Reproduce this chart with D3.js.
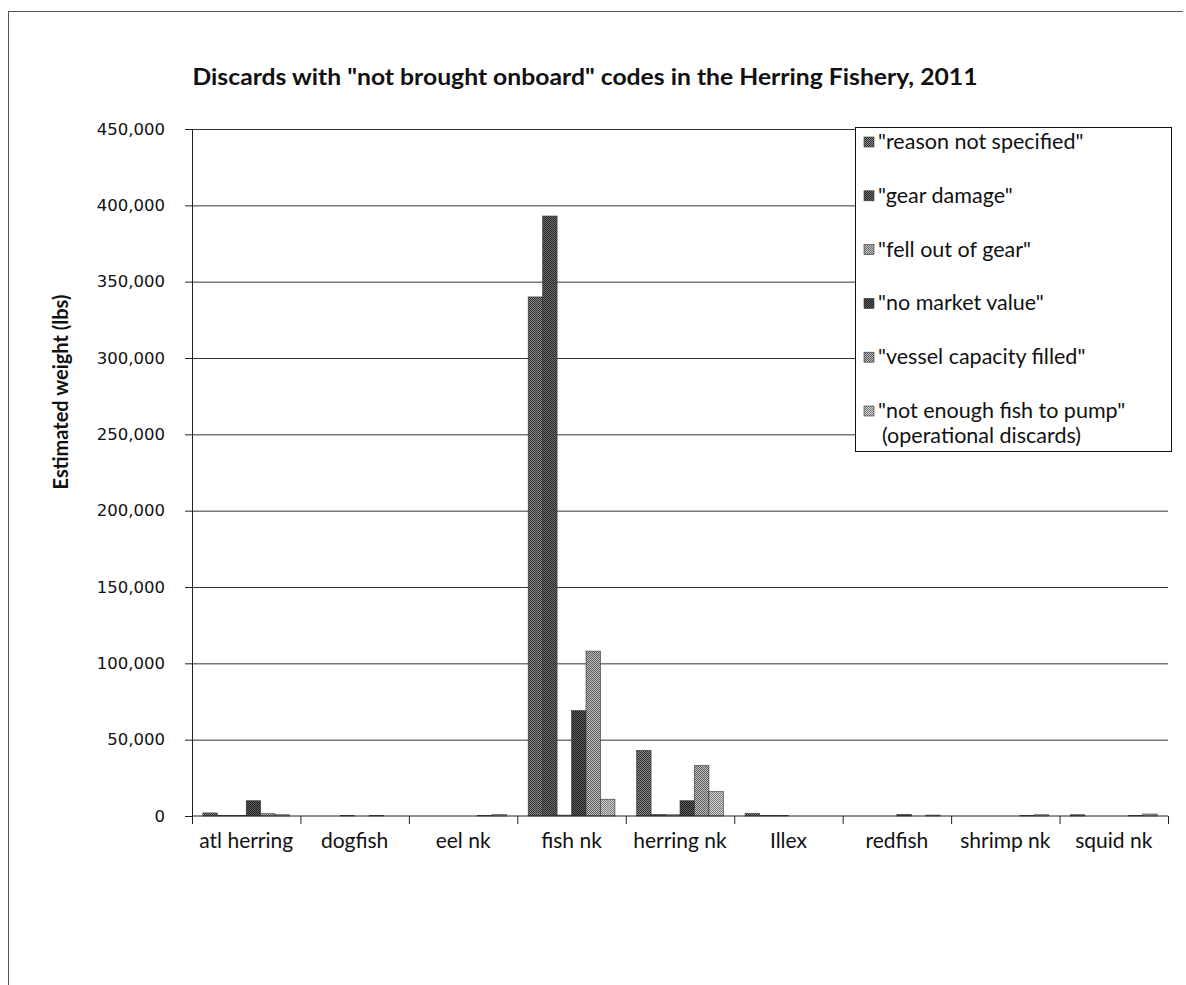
<!DOCTYPE html>
<html>
<head>
<meta charset="utf-8">
<script src="https://cdn.jsdelivr.net/npm/d3@7/dist/d3.min.js"></script>
<style>
  html, body { margin: 0; padding: 0; background: #fff; }
  svg { display: block; }
</style>
</head>
<body>
<svg id="chart" width="1186" height="985"></svg>
<script>
// Discard categories (species codes) along the x axis
const categories = ["atl herring", "dogfish", "eel nk", "fish nk", "herring nk", "Illex", "redfish", "shrimp nk", "squid nk"];

// Estimated weight (lbs) per "not brought onboard" reason, one value per category
const reasonNotSpecified   = [2000,   0,   0, 340000, 43000, 1800,    0,   0,  800];
const gearDamage           = [ 400,   0,   0, 393000,  1000,  300,    0,   0,    0];
const fellOutOfGear        = [ 400, 200,   0,    600,   800,  300,    0,   0,    0];
const noMarketValue        = [10000,  0,   0,  69000, 10000,    0, 1000,   0,    0];
const vesselCapacityFilled = [1500, 300, 300, 108000, 33000,    0,    0, 300,  300];
const notEnoughFishToPump  = [ 800,   0, 900,  11000, 16000,    0,  600, 800, 1300];

// Legend labels, in series order
const seriesLabels = [
  ["\"reason not specified\""],
  ["\"gear damage\""],
  ["\"fell out of gear\""],
  ["\"no market value\""],
  ["\"vessel capacity filled\""],
  ["\"not enough fish to pump\"", "(operational discards)"]
];

const yTicks = [0, 50000, 100000, 150000, 200000, 250000, 300000, 350000, 400000, 450000];

const seriesValues = [reasonNotSpecified, gearDamage, fellOutOfGear, noMarketValue, vesselCapacityFilled, notEnoughFishToPump];

// Two-tone stipple fills, giving the halftone grey look of each series
const tones = [
  ["#2e2e2e", "#8c8c8c"],
  ["#262626", "#6e6e6e"],
  ["#6a6a6a", "#c4c4c4"],
  ["#1e1e1e", "#5e5e5e"],
  ["#5a5a5a", "#c0c0c0"],
  ["#7a7a7a", "#d2d2d2"]
];

const svg = d3.select("#chart");
const defs = svg.append("defs");
tones.forEach((t, i) => {
  const p = defs.append("pattern")
    .attr("id", "fill" + i)
    .attr("patternUnits", "userSpaceOnUse")
    .attr("width", 2).attr("height", 2);
  p.append("rect").attr("width", 2).attr("height", 2).attr("fill", t[1]);
  p.append("rect").attr("width", 1).attr("height", 1).attr("fill", t[0]);
  p.append("rect").attr("x", 1).attr("y", 1).attr("width", 1).attr("height", 1).attr("fill", t[0]);
});

// Chart frame edges
svg.append("line").attr("x1", 8.5).attr("x2", 8.5).attr("y1", 11).attr("y2", 985)
  .attr("stroke", "#555").attr("stroke-width", 1);
svg.append("line").attr("x1", 8).attr("x2", 1183).attr("y1", 11.5).attr("y2", 11.5)
  .attr("stroke", "#555").attr("stroke-width", 1);

const plot = { left: 192, right: 1168, top: 129, bottom: 816 };

const x = d3.scaleBand().domain(categories).range([plot.left, plot.right]).paddingInner(0).paddingOuter(0);
const xs = d3.scaleBand().domain(d3.range(seriesValues.length)).range([0, x.bandwidth()])
  .paddingInner(0).paddingOuter(0.75);
const y = d3.scaleLinear().domain([0, 450000]).range([plot.bottom, plot.top]);

// Title
svg.append("text")
  .attr("x", 585).attr("y", 85)
  .attr("text-anchor", "middle")
  .attr("font-family", "Lato, 'Open Sans', sans-serif")
  .attr("font-weight", "bold")
  .attr("font-size", 23)
  .attr("textLength", 785)
  .attr("lengthAdjust", "spacingAndGlyphs")
  .attr("fill", "#111")
  .text("Discards with \"not brought onboard\" codes in the Herring Fishery, 2011");

// Horizontal gridlines
svg.append("g")
  .attr("class", "grid")
  .attr("transform", `translate(${plot.left},0)`)
  .call(d3.axisLeft(y).tickValues(yTicks.slice(1)).tickSize(-(plot.right - plot.left)).tickFormat(""))
  .call(g => g.select(".domain").remove())
  .call(g => g.selectAll("line").attr("stroke", "#333").attr("stroke-width", 1));

// Y axis with tick labels
const fmt = d3.format(",");
svg.append("g")
  .attr("transform", `translate(${plot.left},0)`)
  .call(d3.axisLeft(y).tickValues(yTicks).tickSize(7).tickPadding(20).tickFormat(d => fmt(d)))
  .call(g => g.select(".domain").attr("stroke", "#222"))
  .call(g => g.selectAll(".tick line").attr("stroke", "#222"))
  .call(g => g.selectAll(".tick text")
    .attr("font-family", "'DejaVu Sans', Verdana, sans-serif")
    .attr("font-size", 16.5)
    .attr("fill", "#111"));

// Y axis title
svg.append("text")
  .attr("transform", "translate(68,392) rotate(-90)")
  .attr("text-anchor", "middle")
  .attr("font-family", "Lato, 'Open Sans', sans-serif")
  .attr("font-weight", "bold")
  .attr("font-size", 20)
  .attr("fill", "#111")
  .text("Estimated weight (lbs)");

// Bars
const bars = [];
seriesValues.forEach((vals, si) => {
  vals.forEach((v, ci) => bars.push({ si, cat: categories[ci], v }));
});
svg.append("g")
  .selectAll("rect")
  .data(bars.filter(d => d.v > 0))
  .join("rect")
  .attr("x", d => x(d.cat) + xs(d.si))
  .attr("width", xs.bandwidth())
  .attr("y", d => y(d.v))
  .attr("height", d => y(0) - y(d.v))
  .attr("fill", d => `url(#fill${d.si})`)
  .attr("stroke", "#333")
  .attr("stroke-width", 0.6);

// X axis with category boundary ticks
const xAxis = svg.append("g").attr("transform", `translate(0,${plot.bottom})`);
xAxis.append("line")
  .attr("x1", plot.left).attr("x2", plot.right)
  .attr("stroke", "#222").attr("stroke-width", 1);
xAxis.selectAll("line.tick")
  .data(categories.concat(["__end"]))
  .join("line")
  .attr("class", "tick")
  .attr("x1", (d, i) => plot.left + i * x.step() + 0.5)
  .attr("x2", (d, i) => plot.left + i * x.step() + 0.5)
  .attr("y1", 0).attr("y2", 8)
  .attr("stroke", "#222");
xAxis.selectAll("text")
  .data(categories)
  .join("text")
  .attr("x", d => x(d) + x.bandwidth() / 2)
  .attr("y", 32)
  .attr("text-anchor", "middle")
  .attr("font-family", "Lato, 'Open Sans', sans-serif")
  .attr("font-size", 21)
  .attr("fill", "#111")
  .text(d => d);

// Legend
const legend = svg.append("g");
legend.append("rect")
  .attr("x", 855.5).attr("y", 127.5)
  .attr("width", 316).attr("height", 324)
  .attr("fill", "#fff").attr("stroke", "#111").attr("stroke-width", 1);
const rowY = d3.scalePoint().domain(d3.range(seriesLabels.length)).range([142, 411]);
seriesLabels.forEach((lines, i) => {
  const cy = rowY(i);
  legend.append("rect")
    .attr("x", 864).attr("y", cy - 5)
    .attr("width", 10).attr("height", 10)
    .attr("fill", `url(#fill${i})`)
    .attr("stroke", "#333").attr("stroke-width", 0.6);
  lines.forEach((ln, j) => {
    legend.append("text")
      .attr("x", j === 0 ? 878 : 882)
      .attr("y", cy + 7 + j * 25)
      .attr("font-family", "Lato, 'Open Sans', sans-serif")
      .attr("font-size", 21.5)
      .attr("fill", "#111")
      .text(ln);
  });
});
</script>
</body>
</html>
